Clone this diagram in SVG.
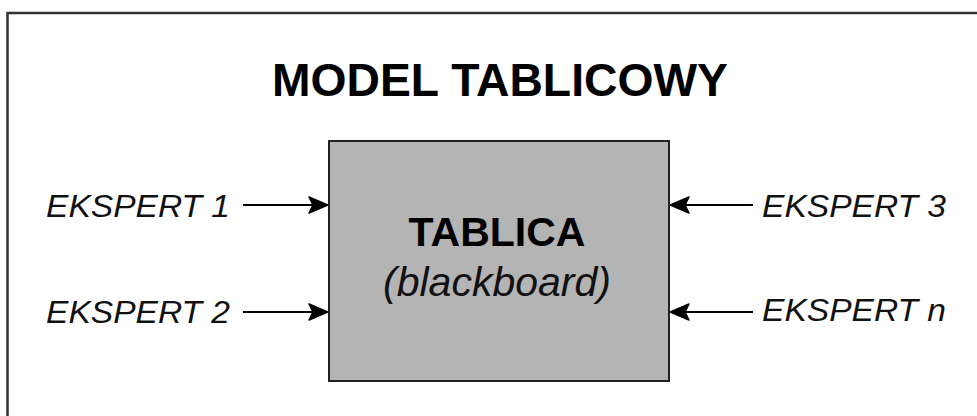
<svg xmlns="http://www.w3.org/2000/svg" width="977" height="416" viewBox="0 0 977 416">
<style>
.lbl{font-family:"Liberation Sans",Arial,sans-serif;font-style:italic;font-size:32px;fill:#111}
.conn{stroke:#000;stroke-width:2;fill:none}
</style>
<defs>
<marker id="ah" viewBox="0 0 20 18" refX="19" refY="9" markerWidth="20" markerHeight="18" markerUnits="userSpaceOnUse" orient="auto">
<path d="M1,1 L20,9 L1,17 L5,9 Z" fill="#000" stroke="#000" stroke-width="1.5" stroke-linejoin="round"/>
</marker>
</defs>
<rect x="0" y="0" width="977" height="416" fill="#fff"/>
<rect id="frame" x="7.5" y="13" width="1000" height="450" fill="none" stroke="#333" stroke-width="2.5"/>
<text id="title" x="500" y="96" text-anchor="middle" font-family="'Liberation Sans',Arial,sans-serif" font-weight="bold" font-size="47" textLength="456" lengthAdjust="spacingAndGlyphs" fill="#000">MODEL TABLICOWY</text>
<g id="tablica">
<rect x="329" y="141" width="340" height="240" fill="#b4b4b4" stroke="#222" stroke-width="2"/>
<text x="497" y="246" text-anchor="middle" font-family="'Liberation Sans',Arial,sans-serif" font-weight="bold" font-size="41" fill="#000">TABLICA</text>
<text x="497" y="296" text-anchor="middle" font-family="'Liberation Sans',Arial,sans-serif" font-style="italic" font-size="41" fill="#111">(blackboard)</text>
</g>
<g id="e1"><text class="lbl" x="46" y="217" textLength="184" lengthAdjust="spacingAndGlyphs">EKSPERT 1</text></g>
<g id="e2"><text class="lbl" x="46" y="323" textLength="184" lengthAdjust="spacingAndGlyphs">EKSPERT 2</text></g>
<g id="e3"><text class="lbl" x="762" y="217" textLength="184" lengthAdjust="spacingAndGlyphs">EKSPERT 3</text></g>
<g id="en"><text class="lbl" x="762" y="321" textLength="184" lengthAdjust="spacingAndGlyphs">EKSPERT n</text></g>
<g id="connectors">
<line class="conn" x1="243" y1="205" x2="327" y2="205" marker-end="url(#ah)"/>
<line class="conn" x1="243" y1="312" x2="327" y2="312" marker-end="url(#ah)"/>
<line class="conn" x1="753" y1="205" x2="671" y2="205" marker-end="url(#ah)"/>
<line class="conn" x1="753" y1="312" x2="671" y2="312" marker-end="url(#ah)"/>
</g>
</svg>
